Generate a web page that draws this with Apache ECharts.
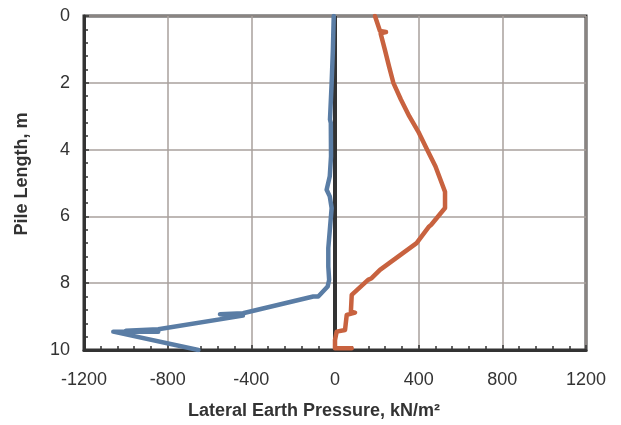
<!DOCTYPE html>
<html>
<head>
<meta charset="utf-8">
<script src="https://cdn.jsdelivr.net/npm/echarts@6/dist/echarts.min.js"></script>
<style>html,body{margin:0;padding:0;background:#fff}#c{width:621px;height:425px}</style>
</head>
<body>
<div id="c"></div>
<script>
// Blue series: lateral earth pressure (kN/m2) vs depth (m)
const blueDepth    = [0, 1, 2, 3.1, 3.2, 4.2, 4.8, 5.2, 5.4, 5.75, 6.95, 7.5, 7.9, 8.1, 8.4, 8.4, 8.9, 8.93, 8.97, 9.38, 9.42, 9.45, 9.45, 10];
const bluePressure = [-6, -10, -16, -24, -20, -19, -25, -40, -25, -16, -32, -32, -28, -35, -80, -104, -440, -550, -440, -845, -1000, -845, -1060, -653];
// Red series
const redDepth    = [0, 0.45, 0.48, 0.52, 1.0, 1.5, 2.0, 2.5, 3.0, 3.46, 4.0, 4.5, 5.26, 5.75, 6.25, 6.3, 6.35, 6.8, 6.85, 7.6, 7.85, 7.9, 8.35, 8.85, 8.88, 8.95, 9.4, 9.45, 9.7, 9.95, 9.95];
const redPressure = [191, 215, 244, 218, 238, 258, 279, 315, 355, 398, 440, 480, 526, 526, 460, 450, 454, 390, 383, 215, 175, 158, 80, 76, 96, 56, 48, 8, 0, 0, 80];
// Axes
const xMin = -1200, xMax = 1200, xStep = 400;
const yMin = 0, yMax = 10, yStep = 2;
const xTitle = 'Lateral Earth Pressure, kN/m²';
const yTitle = 'Pile Length, m';

const zip = (xs, ys) => xs.map((x, i) => [x, ys[i]]);

const chart = echarts.init(document.getElementById('c'), null, {renderer: 'canvas'});
const font = 'Liberation Sans';
chart.setOption({
  animation: false,
  backgroundColor: '#fff',
  grid: {left: 84, right: 35, top: 16, bottom: 75, show: true, borderColor: '#333', borderWidth: 3},
  xAxis: {
    type: 'value', min: xMin, max: xMax, interval: xStep,
    axisLine: {onZero: false, lineStyle: {color: '#333', width: 3}},
    axisTick: {show: true, inside: true, length: 5, lineStyle: {color: '#333', width: 1.5}},
    minorTick: {show: true, splitNumber: 5, length: 4, lineStyle: {color: '#333', width: 1.5}},
    splitLine: {show: true, lineStyle: {color: '#A8A09C', width: 1.5}},
    axisLabel: {color: '#333', fontFamily: font, fontSize: 18, margin: 21, formatter: v => String(v)}
  },
  yAxis: {
    type: 'value', min: yMin, max: yMax, interval: yStep, inverse: true,
    axisLine: {onZero: false, lineStyle: {color: '#333', width: 3}},
    axisTick: {show: true, inside: true, length: 5, lineStyle: {color: '#333', width: 1.5}},
    minorTick: {show: true, splitNumber: 5, length: 4, lineStyle: {color: '#333', width: 1.5}},
    splitLine: {show: true, lineStyle: {color: '#A8A09C', width: 1.5}},
    axisLabel: {color: '#333', fontFamily: font, fontSize: 18, margin: 14}
  },
  graphic: [
    {type: 'text', x: 314, y: 411, style: {text: xTitle, font: 'bold 18px "Liberation Sans"', fill: '#333', textAlign: 'center', textVerticalAlign: 'middle'}},
    {type: 'text', x: 22, y: 174, rotation: Math.PI / 2, style: {text: yTitle, font: 'bold 18px "Liberation Sans"', fill: '#333', textAlign: 'center', textVerticalAlign: 'middle'}}
  ],
  series: [
    {type: 'line', data: [[0, yMin], [0, yMax]], symbol: 'none', z: 1, silent: true,
     lineStyle: {color: '#333', width: 4}},
    {type: 'line', data: zip(bluePressure, blueDepth), symbol: 'none', z: 3,
     lineStyle: {color: '#5A7DA5', width: 4.5, cap: 'round', join: 'round'}},
    {type: 'line', data: zip(redPressure, redDepth), symbol: 'none', z: 3,
     lineStyle: {color: '#C8623F', width: 4.5, cap: 'round', join: 'round'}}
  ]
});
</script>
</body>
</html>
